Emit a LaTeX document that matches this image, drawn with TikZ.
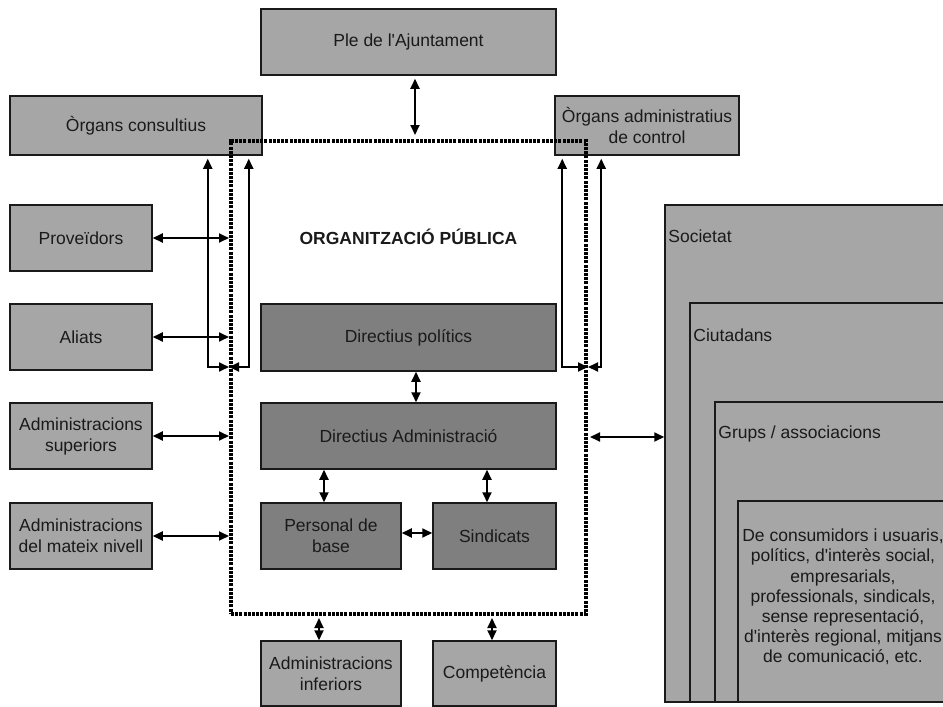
\documentclass[tikz,border=0pt]{standalone}
\usepackage{fontspec}
\setmainfont{Liberation Sans}
\usetikzlibrary{arrows.meta}
\definecolor{boxlight}{HTML}{A6A6A6}
\definecolor{boxdark}{HTML}{7F7F7F}
\definecolor{ink}{HTML}{1A1A1A}
\begin{document}
\begin{tikzpicture}[x=1pt,y=-1pt,
  font=\fontsize{17.5}{21}\selectfont,
  lbox/.style={draw=ink, line width=1.5pt, fill=boxlight, text=ink, align=center, inner sep=0pt},
  dbox/.style={lbox, fill=boxdark},
  orgframe/.style={draw=black, line width=4pt, dash pattern=on 3pt off 1.2pt, inner sep=0pt},
  dbl/.style={{Triangle[length=10pt,width=9pt]}-{Triangle[length=10pt,width=9pt]}, line width=1.8pt, draw=black},
  lab/.style={anchor=west, inner sep=0pt, text=ink}]
\useasboundingbox[fill=white] (0,0) rectangle (943,707);

% society: nested groups, running off the right and bottom edges
\node[lbox, minimum width=285, minimum height=497] (soc) at (807.5,453.5) {};
\node[lbox, minimum width=260, minimum height=399] (ciu) at (820,502.5) {};
\node[lbox, minimum width=235, minimum height=300] (grp) at (832.5,552) {};
\node[lbox, minimum width=210, minimum height=201] (grpin) at (843,601.5) {};
\node[lab] at ([xshift=4pt,yshift=-32pt]soc.north west) {Societat};
\node[lab] at ([xshift=4pt,yshift=-33pt]ciu.north west) {Ciutadans};
\node[lab] at ([xshift=4pt,yshift=-33pt]grp.north west) {Grups / associacions};
\node[align=center, text=ink, inner sep=0pt, font=\fontsize{17.5}{20.2}\selectfont] (grptxt) at (843,597)
  {De consumidors i usuaris,\\polítics, d\textquotesingle interès social,\\empresarials,\\professionals, sindicals,\\sense representació,\\d\textquotesingle interès regional, mitjans\\de comunicació, etc.};

% boxes above
\node[lbox, minimum width=295, minimum height=66] (ple) at (408.5,42) {Ple de l\textquotesingle Ajuntament};
\node[lbox, minimum width=252, minimum height=59] (cons) at (136,125.5) {Òrgans consultius};
\node[lbox, minimum width=184, minimum height=59] (ctrl) at (647,125.5) {Òrgans administratius\\de control};

% boxes on the left
\node[lbox, minimum width=142, minimum height=66] (prov) at (81,238) {Proveïdors};
\node[lbox, minimum width=142, minimum height=66] (aliats) at (81,337) {Aliats};
\node[lbox, minimum width=142, minimum height=66] (asup) at (81,436) {Administracions\\superiors};
\node[lbox, minimum width=142, minimum height=66] (aniv) at (81,536) {Administracions\\del mateix nivell};

% inside the organisation
\node[dbox, minimum width=295, minimum height=67] (dp) at (408.5,337.5) {Directius polítics};
\node[dbox, minimum width=295, minimum height=66] (da) at (408.5,436) {Directius Administració};
\node[dbox, minimum width=140, minimum height=66] (pb) at (331,536) {Personal de\\base};
\node[dbox, minimum width=123, minimum height=66] (sind) at (494.5,536) {Sindicats};

% boxes below
\node[lbox, minimum width=140, minimum height=65] (ainf) at (331,673.5) {Administracions\\inferiors};
\node[lbox, minimum width=123, minimum height=65] (comp) at (494.5,673.5) {Competència};

% the public organisation (dotted frame, drawn over the box corners)
\node[orgframe, minimum width=355, minimum height=473] (org) at (408.5,377.5) {};
\node[font=\fontsize{17.5}{21}\selectfont\bfseries, text=ink] (orgtitle) at (408.5,237) {ORGANITZACIÓ PÚBLICA};

% reference heights for connectors
\coordinate (yj) at (0,367);
\coordinate (ys) at (0,437);

% connectors
\draw[dbl, shorten <=3pt, shorten >=4pt] ([xshift=6.5pt]ple.south) -- ([xshift=6.5pt]ple.south |- org.north);
\draw[dbl, shorten >=3pt] (org.west |- yj) -| ([xshift=-55pt]cons.south east);
\draw[dbl, shorten >=3pt] (org.west |- yj) -| ([xshift=-14pt]cons.south east);
\draw[dbl, shorten >=3pt] (org.east |- yj) -| ([xshift=8pt]ctrl.south west);
\draw[dbl, shorten >=3pt] (org.east |- yj) -| ([xshift=47pt]ctrl.south west);

\draw[dbl] (prov.east) -- (prov.east -| org.west);
\draw[dbl] (aliats.east) -- (aliats.east -| org.west);
\draw[dbl] (asup.east) -- (asup.east -| org.west);
\draw[dbl] (aniv.east) -- (aniv.east -| org.west);

\draw[dbl] ([xshift=7.5pt]dp.south) -- ([xshift=7.5pt]da.north);
\draw[dbl] ([xshift=-7pt]pb.north) -- ([xshift=-7pt]pb.north |- da.south);
\draw[dbl] ([xshift=-7.5pt]sind.north) -- ([xshift=-7.5pt]sind.north |- da.south);
\draw[dbl] ([yshift=3pt]pb.east) -- ([yshift=3pt]sind.west);

\draw[dbl, shorten <=2pt] ([xshift=-12pt]ainf.north |- org.south) -- ([xshift=-12pt]ainf.north);
\draw[dbl, shorten <=2pt] ([xshift=-2.5pt]comp.north |- org.south) -- ([xshift=-2.5pt]comp.north);

\draw[dbl, shorten <=2pt] (org.east |- ys) -- (soc.west |- ys);
\end{tikzpicture}
\end{document}
